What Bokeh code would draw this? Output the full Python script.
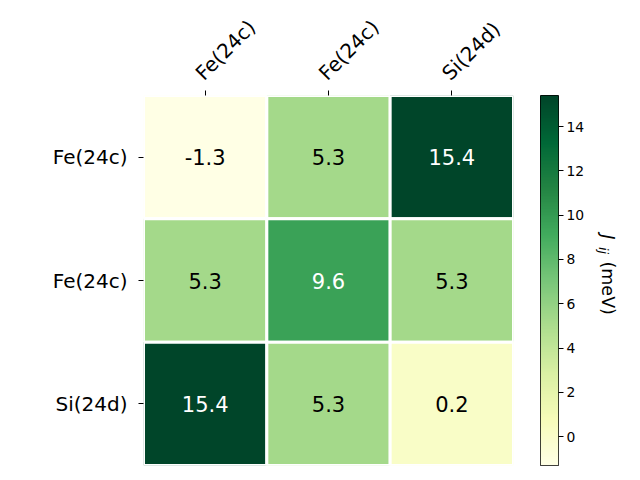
import numpy as np
from bokeh.plotting import figure
from bokeh.models import (ColumnDataSource, LinearColorMapper, FixedTicker, Range1d,
                          LinearAxis)
from bokeh.layouts import row
from bokeh.embed import file_html
from bokeh.resources import INLINE
from bokeh.transform import transform
from bokeh.core.properties import value

# ---- data ----
col_labels = ["Fe(24c)", "Fe(24c)", "Si(24d)"]
row_labels = ["Fe(24c)", "Fe(24c)", "Si(24d)"]
row0 = [-1.3, 5.3, 15.4]
row1 = [5.3, 9.6, 5.3]
row2 = [15.4, 5.3, 0.2]
cbar_ticks = [0, 2, 4, 6, 8, 10, 12, 14]
cbar_label_parts = ["J", "ij", "(meV)"]

matrix = [row0, row1, row2]
vmin = min(min(r) for r in matrix)
vmax = max(max(r) for r in matrix)

# YlGn (ColorBrewer 9) interpolated to 256 steps
base = ["#ffffe5", "#f7fcb9", "#d9f0a3", "#addd8e", "#78c679",
        "#41ab5d", "#238443", "#006837", "#004529"]
rgb = np.array([[int(c[i:i + 2], 16) for i in (1, 3, 5)] for c in base], float)
pos = np.linspace(0, 1, len(base))
t = np.linspace(0, 1, 256)
pal = ["#%02x%02x%02x" % tuple(int(round(np.interp(tt, pos, rgb[:, k]))) for k in range(3))
       for tt in t]
mapper = LinearColorMapper(palette=pal, low=vmin, high=vmax)

xs, ys, vals, txt, tcol = [], [], [], [], []
mid = (vmin + vmax) / 2
for i, r in enumerate(matrix):
    for j, v in enumerate(r):
        xs.append(j + 0.5)
        ys.append(i + 0.5)
        vals.append(v)
        txt.append(f"{v:.1f}")
        tcol.append("white" if v > mid else "black")
src = ColumnDataSource(dict(x=xs, y=ys, v=vals, t=txt, c=tcol))

FONT = "DejaVu Sans"
TOP, BOTTOM = 95, 15
H = 480

p = figure(width=527, height=H, x_range=Range1d(0, 3), y_range=Range1d(3, 0),
           x_axis_location="above", output_backend="svg", toolbar_location=None,
           min_border_left=143, min_border_right=14, min_border_top=TOP,
           min_border_bottom=BOTTOM)
p.outline_line_color = None
p.grid.visible = False
p.rect(x="x", y="y", width=1, height=1, source=src,
       fill_color=transform("v", mapper), line_color="white", line_width=3)
p.text(x="x", y="y", text="t", source=src, text_color="c",
       text_align="center", text_baseline="middle", text_font_size="21px",
       text_font=value(FONT))

centers = [0.5, 1.5, 2.5]
for ax in (p.xaxis[0], p.yaxis[0]):
    ax.ticker = FixedTicker(ticks=centers)
    ax.axis_line_color = None
    ax.major_tick_out = 5
    ax.major_tick_in = 0
    ax.minor_tick_line_color = None
    ax.major_label_text_font_size = "20px"
    ax.major_label_text_font = FONT
    ax.major_label_text_color = "black"
    ax.major_tick_line_color = "black"
p.yaxis.major_label_overrides = {c: lab for c, lab in zip(centers, row_labels)}
p.yaxis.major_label_standoff = 11
# top axis: ticks only; labels drawn by a second top axis nudged to mimic matplotlib's rotated anchor
p.xaxis.major_label_overrides = {c: "" for c in centers}
p.xaxis.major_label_standoff = 0
shift = -0.05
lab_ticks = [c + shift for c in centers]
ax2 = LinearAxis(ticker=FixedTicker(ticks=lab_ticks),
                 major_label_overrides={tk: lab for tk, lab in zip(lab_ticks, col_labels)},
                 major_label_orientation=np.pi / 4, major_label_standoff=14,
                 major_tick_out=0, major_tick_in=0, minor_tick_line_color=None,
                 axis_line_color=None, major_label_text_font_size="20px",
                 major_label_text_font=FONT, major_label_text_color="black")
p.add_layout(ax2, "above")

# ---- colorbar ----
cb = figure(width=61, height=H, x_range=Range1d(0, 1), y_range=Range1d(vmin, vmax),
            y_axis_location="right", output_backend="svg", toolbar_location=None,
            min_border_left=13, min_border_right=30, min_border_top=TOP,
            min_border_bottom=BOTTOM)
cb.xaxis.visible = False
cb.grid.visible = False
grad = np.linspace(vmin, vmax, 256).reshape(256, 1)
cb.image(image=[grad], x=0, y=vmin, dw=1, dh=vmax - vmin, color_mapper=mapper)
cb.outline_line_color = "black"
cb.outline_line_width = 1
ya = cb.yaxis[0]
ya.ticker = FixedTicker(ticks=cbar_ticks)
ya.axis_line_color = None
ya.major_tick_out = 5
ya.major_tick_in = 0
ya.minor_tick_line_color = None
ya.major_tick_line_color = "black"
ya.major_label_text_font_size = "13.9px"
ya.major_label_text_font = FONT
ya.major_label_text_color = "black"
ya.major_label_standoff = 3

# ---- colorbar label (separate small panel, page-pixel coordinates) ----
LX0 = 527 + 61
lab = figure(width=640 - LX0, height=H, x_range=Range1d(LX0, 640),
             y_range=Range1d(H - BOTTOM, TOP),
             output_backend="svg", toolbar_location=None,
             min_border_left=0, min_border_right=0, min_border_top=TOP,
             min_border_bottom=BOTTOM)
lab.axis.visible = False
lab.grid.visible = False
lab.outline_line_color = None
label_x = [607, 603, 607]
label_y = [234, 246.5, 261]
for i, (style, size) in enumerate([("italic", "17px"), ("italic", "13px"), ("normal", "17.5px")]):
    s = ColumnDataSource(dict(x=[label_x[i]], y=[label_y[i]], t=[cbar_label_parts[i]]))
    lab.text(x="x", y="y", text="t", source=s, angle=-np.pi / 2,
             text_align="left", text_baseline="middle", text_font_size=value(size),
             text_font=value(FONT), text_font_style=style, text_color="black")

layout = row(p, cb, lab)
open("out.html", "w").write(file_html(layout, INLINE))
